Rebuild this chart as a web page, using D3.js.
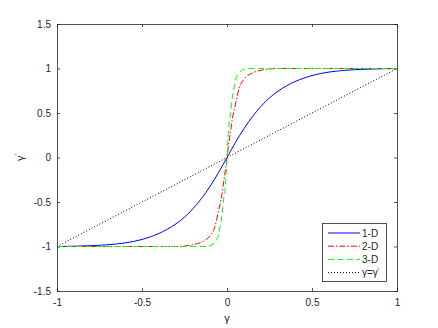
<!DOCTYPE html>
<html>
<head>
<meta charset="utf-8">
<script src="https://cdn.jsdelivr.net/npm/d3@7"></script>
<style>
  body { margin: 0; background: #fff; }
  svg text { font-family: "Liberation Sans", Arial, sans-serif; fill: #262626; }
</style>
</head>
<body>
<div id="chart"></div>
<script>
var x1D = [-1, -0.9, -0.8, -0.7, -0.6, -0.5, -0.45, -0.4, -0.35, -0.3, -0.25, -0.2, -0.15, -0.1, -0.05, 0,
           0.05, 0.1, 0.15, 0.2, 0.25, 0.3, 0.35, 0.4, 0.45, 0.5, 0.6, 0.7, 0.8, 0.9, 1];
var y1D = [-1, -0.997, -0.991, -0.98, -0.96, -0.921, -0.891, -0.853, -0.805, -0.745, -0.67, -0.575, -0.46, -0.325, -0.17, 0,
           0.17, 0.325, 0.46, 0.575, 0.67, 0.745, 0.805, 0.853, 0.891, 0.921, 0.96, 0.98, 0.991, 0.997, 1];

var x2D = [-1, -0.5, -0.3, -0.25, -0.2, -0.15, -0.125, -0.1, -0.07, -0.05, -0.03, -0.02, -0.01, 0,
           0.01, 0.02, 0.03, 0.05, 0.07, 0.1, 0.125, 0.15, 0.2, 0.25, 0.3, 0.5, 1];
var y2D = [-1, -1, -1, -0.995, -0.98, -0.95, -0.925, -0.88, -0.77, -0.6, -0.42, -0.28, -0.15, 0,
           0.15, 0.28, 0.42, 0.6, 0.77, 0.88, 0.925, 0.95, 0.98, 0.995, 1, 1, 1];

var x3D = [-1, -0.5, -0.125, -0.1, -0.075, -0.05, -0.04, -0.03, -0.02, -0.01, -0.005, 0,
           0.005, 0.01, 0.02, 0.03, 0.04, 0.05, 0.075, 0.1, 0.125, 0.5, 1];
var y3D = [-1, -1, -1, -0.99, -0.96, -0.87, -0.77, -0.65, -0.47, -0.33, -0.18, 0,
           0.18, 0.33, 0.47, 0.65, 0.77, 0.87, 0.96, 0.99, 1, 1, 1];

var xRef = [-1, 1];
var yRef = [-1, 1];

var xTicks = [-1, -0.5, 0, 0.5, 1];
var yTicks = [-1.5, -1, -0.5, 0, 0.5, 1, 1.5];
var legendLabels = ["1-D", "2-D", "3-D", "γ=γ'"];

var width = 438, height = 328;
var margin = {top: 24, right: 41, bottom: 37, left: 57};

var svg = d3.select("#chart").append("svg")
    .attr("width", width)
    .attr("height", height);

var x = d3.scaleLinear().domain([-1, 1]).range([margin.left, width - margin.right]);
var y = d3.scaleLinear().domain([-1.5, 1.5]).range([height - margin.bottom, margin.top]);

var axisColor = "#262626";
var fmt = function(d) { return d3.format("")(d).replace("−", "-"); };

// Axes with inward ticks on all four sides
function styleAxis(g) {
	g.select(".domain").attr("stroke", axisColor).attr("stroke-width", 0.8);
	g.selectAll(".tick line").attr("stroke", axisColor).attr("stroke-width", 0.8);
	g.selectAll(".tick text").attr("font-size", 10).attr("fill", axisColor);
}

svg.append("g")
	.attr("transform", "translate(0," + y(-1.5) + ")")
	.call(d3.axisBottom(x).tickValues(xTicks).tickSize(-3).tickPadding(8).tickFormat(fmt))
	.call(styleAxis);

svg.append("g")
	.attr("transform", "translate(0," + y(1.5) + ")")
	.call(d3.axisTop(x).tickValues(xTicks).tickSize(-3).tickFormat(""))
	.call(styleAxis);

svg.append("g")
	.attr("transform", "translate(" + x(-1) + ",0)")
	.call(d3.axisLeft(y).tickValues(yTicks).tickSize(-3).tickPadding(6).tickFormat(fmt))
	.call(styleAxis);

svg.append("g")
	.attr("transform", "translate(" + x(1) + ",0)")
	.call(d3.axisRight(y).tickValues(yTicks).tickSize(-3).tickFormat(""))
	.call(styleAxis);

// Axis labels
svg.append("text")
	.attr("x", x(0))
	.attr("y", 322)
	.attr("text-anchor", "middle")
	.attr("font-size", 11)
	.text("γ");

var yl = svg.append("text")
	.attr("transform", "translate(24," + y(0) + ") rotate(-90)")
	.attr("text-anchor", "middle")
	.attr("font-size", 11);
yl.append("tspan").text("γ");
yl.append("tspan").attr("dy", -4).attr("font-size", 8).text("'");

// Curves
var series = [
	{xs: x1D, ys: y1D, color: "#0000ff", dash: null},
	{xs: x2D, ys: y2D, color: "#ff0000", dash: "6,2,1.5,2"},
	{xs: x3D, ys: y3D, color: "#00ff00", dash: "6,3.5"},
	{xs: xRef, ys: yRef, color: "#000000", dash: "1,2"}
];

var line = d3.line()
	.x(function(d) { return x(d[0]); })
	.y(function(d) { return y(d[1]); })
	.curve(d3.curveMonotoneX);

series.forEach(function(s) {
	svg.append("path")
		.datum(d3.zip(s.xs, s.ys))
		.attr("fill", "none")
		.attr("stroke", s.color)
		.attr("stroke-width", 1)
		.attr("stroke-dasharray", s.dash)
		.attr("d", line);
});

// Legend
var lg = svg.append("g");
lg.append("rect")
	.attr("x", 322.5).attr("y", 223.5)
	.attr("width", 64).attr("height", 58)
	.attr("fill", "#fff")
	.attr("stroke", axisColor)
	.attr("stroke-width", 0.8);

series.forEach(function(s, i) {
	var ly = 233 + i * 13.2;
	lg.append("line")
		.attr("x1", 328).attr("x2", 360)
		.attr("y1", ly).attr("y2", ly)
		.attr("stroke", s.color)
		.attr("stroke-width", 1)
		.attr("stroke-dasharray", s.dash);
	var t = lg.append("text")
		.attr("x", 362)
		.attr("y", ly + 3.5)
		.attr("font-size", 10);
	if (i < 3) {
		t.text(legendLabels[i]);
	} else {
		t.append("tspan").text("γ=γ");
		t.append("tspan").attr("dy", -3).attr("font-size", 8).text("'");
	}
});
</script>
</body>
</html>
